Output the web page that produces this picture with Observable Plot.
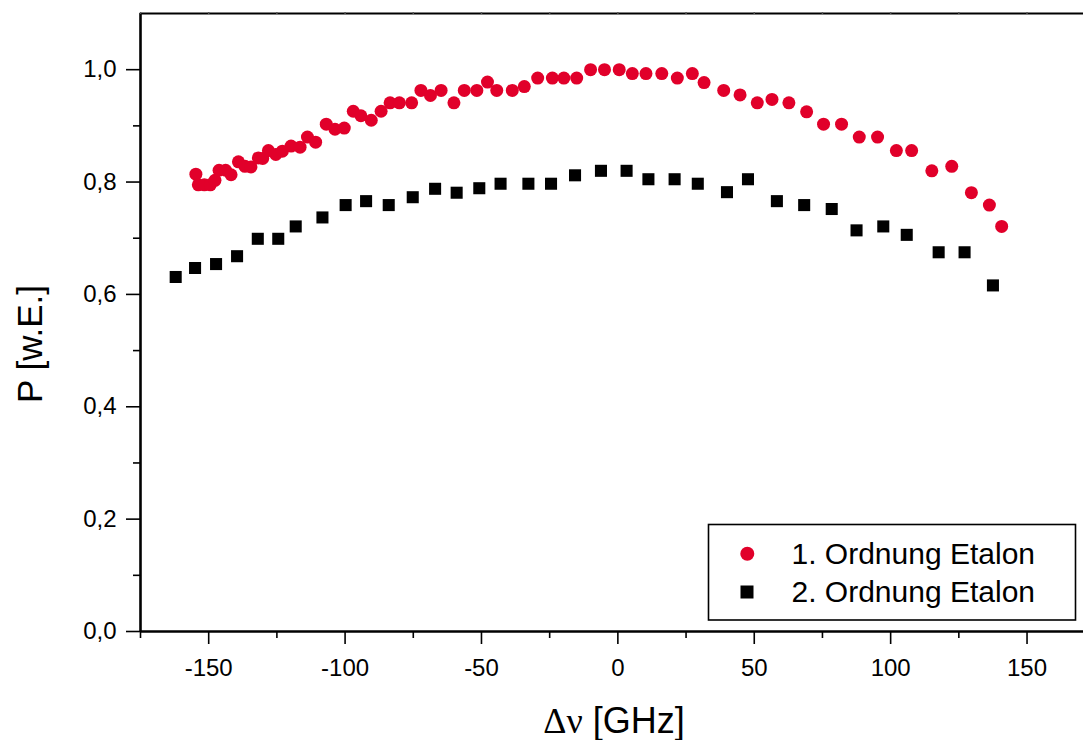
<!DOCTYPE html>
<html>
<head>
<meta charset="utf-8">
<script src="https://cdn.jsdelivr.net/npm/d3@7"></script>
<script src="https://cdn.jsdelivr.net/npm/@observablehq/plot@0.6"></script>
<style>
  html, body { margin: 0; padding: 0; background: white; }
  #chart svg { display: block; }
</style>
</head>
<body>
<div id="chart"></div>
<script>
// ---- Data: 1. Ordnung Etalon (red circles)
const order1X = [-154.7,-153.8,-151.6,-149.4,-147.7,-146.2,-143.8,-141.8,-139.1,-136.7,-134.5,-131.8,-130.2,-128.1,-125.4,-123.0,-119.8,-116.5,-113.8,-110.8,-106.9,-103.7,-100.3,-97.0,-94.2,-90.4,-86.8,-83.5,-80.1,-75.6,-72.2,-68.7,-64.8,-60.1,-56.3,-51.7,-47.8,-44.4,-38.7,-34.3,-29.4,-24.0,-19.8,-15.1,-10.0,-4.9,0.5,5.3,10.3,16.1,21.8,27.3,31.6,38.8,44.8,51.1,56.5,62.7,69.2,75.4,82.0,88.5,95.2,102.1,107.7,115.1,122.4,129.6,136.2,140.7];
const order1Y = [0.814,0.795,0.795,0.795,0.803,0.821,0.821,0.813,0.836,0.828,0.827,0.843,0.842,0.856,0.849,0.855,0.864,0.862,0.880,0.871,0.903,0.894,0.896,0.926,0.918,0.910,0.926,0.941,0.941,0.941,0.963,0.954,0.963,0.941,0.963,0.963,0.978,0.963,0.963,0.970,0.985,0.985,0.985,0.985,1.000,1.000,1.000,0.993,0.993,0.993,0.985,0.993,0.977,0.963,0.955,0.941,0.947,0.941,0.925,0.903,0.903,0.880,0.880,0.856,0.856,0.820,0.828,0.781,0.759,0.721];

// ---- Data: 2. Ordnung Etalon (black squares)
const order2X = [-162.1,-155.0,-147.3,-139.6,-132.0,-124.5,-118.1,-108.3,-99.8,-92.3,-84.0,-75.2,-67.0,-59.1,-50.8,-43.0,-32.8,-24.5,-15.7,-6.2,3.2,11.2,20.8,29.3,40.0,47.7,58.3,68.3,78.4,87.5,97.3,105.9,117.6,127.1,137.5];
const order2Y = [0.631,0.647,0.654,0.668,0.699,0.699,0.721,0.737,0.759,0.766,0.759,0.773,0.788,0.781,0.789,0.797,0.797,0.797,0.812,0.820,0.820,0.805,0.805,0.797,0.782,0.805,0.766,0.759,0.752,0.714,0.721,0.706,0.675,0.675,0.616];

// ---- Ticks and labels
const xMajorTicks = [-150,-100,-50,0,50,100,150];
const xMinorTicks = [-175,-125,-75,-25,25,75,125];
const xTopTicks = [-175,-150,-125,-100,-75,-50,-25,0,25,50,75,100,125,150];
const yMajorTicks = [0,0.2,0.4,0.6,0.8,1.0];
const yMinorTicks = [0.1,0.3,0.5,0.7,0.9];
const seriesNames = ["1. Ordnung Etalon","2. Ordnung Etalon"];
const xTitleSymbol = "Δν";
const xTitleUnit = " [GHz]";
const yTitle = "P [w.E.]";

const red = "#e1002a";
const font = "Arial, 'Liberation Sans', sans-serif";

const s1 = order1X.map((x,i) => ({x, y: order1Y[i]}));
const s2 = order2X.map((x,i) => ({x, y: order2Y[i]}));

const chart = Plot.plot({
  width: 1083,
  height: 740,
  marginLeft: 140,
  marginRight: 0,
  marginTop: 13,
  marginBottom: 109,
  style: {fontFamily: font, background: "white", color: "black", overflow: "visible"},
  x: {domain: [-175, 170.7]},
  y: {domain: [0, 1.1]},
  marks: [
    // axis lines
    Plot.ruleY([0], {stroke: "black", strokeWidth: 2.6}),
    Plot.ruleY([1.1], {stroke: "black", strokeWidth: 2.2}),
    Plot.ruleX([-175], {stroke: "black", strokeWidth: 2.6}),
    // bottom axis
    Plot.axisX({ticks: xMajorTicks, tickSize: 13, tickPadding: 14, tickFormat: d => String(d), fontSize: 24, strokeWidth: 1.6, label: null}),
    Plot.axisX({ticks: xMinorTicks, tickSize: 7, text: null, strokeWidth: 1.6, label: null}),
    Plot.axisX({anchor: "top", ticks: xTopTicks, tickSize: 2, text: null, strokeWidth: 1.5, stroke: "#555", label: null}),
    // left axis
    Plot.axisY({ticks: yMajorTicks, tickSize: 14, tickPadding: 10, tickFormat: d => d.toFixed(1).replace(".", ","), fontSize: 24, strokeWidth: 1.6, label: null}),
    Plot.axisY({ticks: yMinorTicks, tickSize: 7, text: null, strokeWidth: 1.6, label: null}),
    // data
    Plot.dot(s2, {x: "x", y: "y", symbol: "square", r: 6.8, fill: "black", stroke: null}),
    Plot.dot(s1, {x: "x", y: "y", r: 6.5, fill: red, stroke: null})
  ]
});

document.getElementById("chart").appendChild(chart);

const svg = d3.select(chart);

// ---- Axis titles
const xt = svg.append("text")
  .attr("x", 614).attr("y", 733)
  .attr("text-anchor", "middle")
  .attr("font-family", font)
  .attr("font-size", 36)
  .attr("fill", "black");
xt.append("tspan").attr("font-family", "'Liberation Serif', 'Times New Roman', serif").text(xTitleSymbol);
xt.append("tspan").text(xTitleUnit);

svg.append("text")
  .attr("transform", "translate(42,344) rotate(-90)")
  .attr("text-anchor", "middle")
  .attr("font-family", font)
  .attr("font-size", 35)
  .attr("fill", "black")
  .text(yTitle);

// ---- Legend box inside the plot area
const lg = svg.append("g").attr("font-family", font);
lg.append("rect").attr("x", 708.5).attr("y", 524.5).attr("width", 367).attr("height", 95.5)
  .attr("fill", "white").attr("stroke", "black").attr("stroke-width", 1.6);
lg.append("circle").attr("cx", 747.3).attr("cy", 553.7).attr("r", 7).attr("fill", red);
lg.append("rect").attr("x", 740.5).attr("y", 585.5).attr("width", 13).attr("height", 13).attr("fill", "black");
lg.selectAll("text.lbl").data(seriesNames).join("text")
  .attr("class", "lbl")
  .attr("x", 791.5)
  .attr("y", (d, i) => i === 0 ? 564 : 602)
  .attr("text-anchor", "start")
  .attr("font-size", 30)
  .attr("fill", "black")
  .text(d => d);
</script>
</body>
</html>
